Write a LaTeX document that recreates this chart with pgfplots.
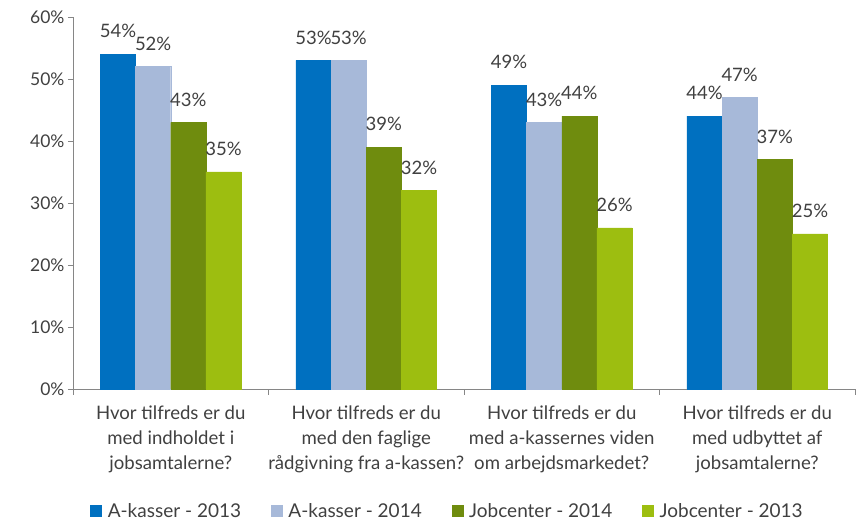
\documentclass[border=0pt]{standalone}
\usepackage{pgfplots}
\pgfplotsset{compat=1.18}
\usepackage{fontspec}
\setmainfont{Lato}
\definecolor{c1}{HTML}{0070C0}
\definecolor{c2}{HTML}{A7B9D9}
\definecolor{c3}{HTML}{6F8C0E}
\definecolor{c4}{HTML}{9DBE10}
\definecolor{axgray}{HTML}{868686}
\definecolor{txt}{HTML}{404040}
\begin{document}
\begin{tikzpicture}[x=1pt,y=1pt]
\path[use as bounding box] (-73,-135) rectangle (787,389);
\begin{axis}[
  at={(0,0)}, anchor=south west,
  scale only axis, width=782pt, height=372pt,
  ybar=0pt, bar width=0.18,
  xmin=-0.5, xmax=3.5, ymin=0, ymax=60,
  axis x line*=bottom, axis y line*=left,
  axis line style={axgray, line width=0.8pt},
  xtick={0,1,2,3},
  xticklabels={{Hvor tilfreds er du\\med indholdet i\\jobsamtalerne?},
               {Hvor tilfreds er du\\med den faglige\\rådgivning fra a-kassen?},
               {Hvor tilfreds er du\\med a-kassernes viden\\om arbejdsmarkedet?},
               {Hvor tilfreds er du\\med udbyttet af\\jobsamtalerne?}},
  xticklabel style={align=center, font=\fontsize{18.6}{25}\selectfont, text=txt, yshift=-8pt},
  minor xtick={-0.5,0.5,1.5,2.5,3.5},
  major x tick style={draw=none},
  minor x tick style={axgray, line width=0.8pt},
  ytick={0,10,...,60},
  yticklabel={\pgfmathprintnumber{\tick}\%},
  yticklabel style={font=\fontsize{17.5}{20}\selectfont, text=txt},
  /pgf/number format/assume math mode=true,
  y tick style={axgray, line width=0.8pt},
  tick align=outside,
  major tick length=5pt, minor tick length=6pt,
  nodes near coords={\pgfmathprintnumber{\pgfplotspointmeta}\%},
  nodes near coords style={font=\fontsize{18.5}{20}\selectfont, text=txt, inner sep=1pt, yshift=15pt},
  legend columns=4,
  legend style={at={(0.479,-0.328)}, anchor=center, draw=none,
    font=\fontsize{19}{20}\selectfont, text=txt,
    /tikz/every odd column/.append style={column sep=4pt},
    /tikz/every even column/.append style={column sep=28pt}},
  legend image code/.code={\fill[#1] (0pt,-5.5pt) rectangle (11pt,5.5pt);},
  clip=false,
]
\addplot[fill=c1, draw=c1] coordinates {(0,54) (1,53) (2,49) (3,44)};
\addplot[fill=c2, draw=c2] coordinates {(0,52) (1,53) (2,43) (3,47)};
\addplot[fill=c3, draw=c3] coordinates {(0,43) (1,39) (2,44) (3,37)};
\addplot[fill=c4, draw=c4] coordinates {(0,35) (1,32) (2,26) (3,25)};
\legend{A-kasser - 2013, A-kasser - 2014, Jobcenter - 2014, Jobcenter - 2013}
\end{axis}
\end{tikzpicture}
\end{document}
